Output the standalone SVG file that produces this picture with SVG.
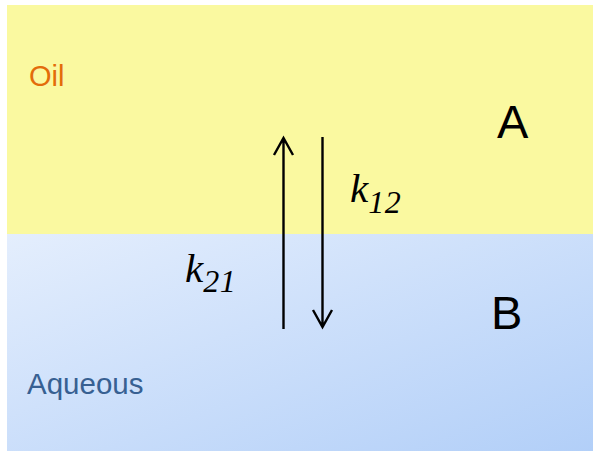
<svg xmlns="http://www.w3.org/2000/svg" width="593" height="451" viewBox="0 0 593 451">
<defs>
<linearGradient id="aq" x1="0" y1="0" x2="1" y2="1">
<stop offset="0" stop-color="#E4EEFD"/>
<stop offset="1" stop-color="#B2CFF8"/>
</linearGradient>
<style>
.lbl{font-family:"Liberation Sans",Arial,sans-serif}
.k{font-family:"Liberation Serif","Times New Roman",serif;font-style:italic;fill:#000}
.arr{stroke:#000;stroke-width:2.4;fill:none;stroke-linecap:butt}
</style>
</defs>
<rect width="593" height="451" fill="#fff"/>
<g id="oil">
<rect x="7" y="5" width="586" height="229" fill="#FAF9A0"/>
<text class="lbl" x="29" y="86" font-size="29" fill="#E36C0A">Oil</text>
<text class="lbl" x="497" y="138" font-size="47" fill="#000">A</text>
</g>
<g id="aqueous">
<rect x="7" y="234" width="586" height="217" fill="url(#aq)"/>
<text class="lbl" x="27" y="394" font-size="29.5" fill="#376092">Aqueous</text>
<text class="lbl" x="491" y="329" font-size="47" fill="#000">B</text>
</g>
<g id="connectors">
<path class="arr" d="M283.5,329 V138 M274,155 L283.5,138 L293,155"/>
<path class="arr" d="M322.5,137 V327 M313,310 L322.5,327 L332,310"/>
</g>
<g id="labels">
<text class="k" x="350" y="202" font-size="41">k<tspan font-size="32" dy="11" letter-spacing="0.5">12</tspan></text>
<text class="k" x="185" y="282" font-size="41">k<tspan font-size="32" dy="10" letter-spacing="0.5">21</tspan></text>
</g>
</svg>
